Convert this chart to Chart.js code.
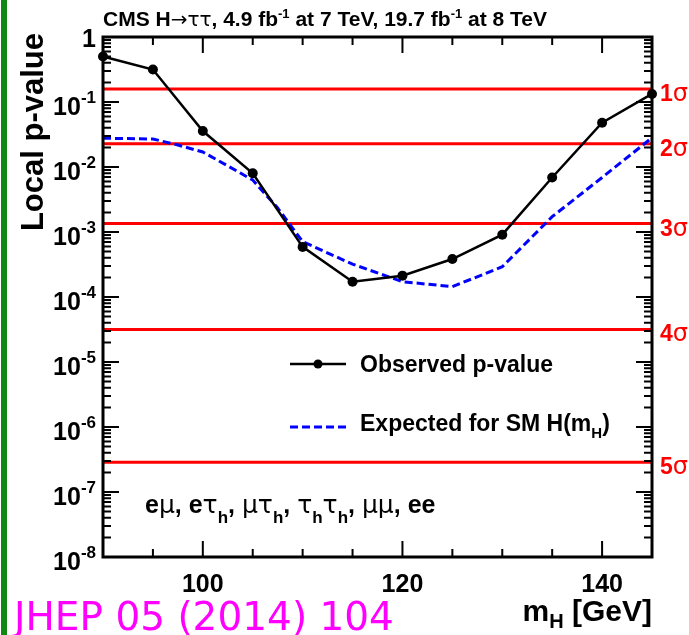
<!DOCTYPE html>
<html>
<head>
<meta charset="utf-8">
<script src="https://cdn.jsdelivr.net/npm/chart.js@4.4.1/dist/chart.umd.min.js"></script>
<style>
  body { margin: 0; background: #fff; }
  canvas { display: block; }
</style>
</head>
<body>
<canvas id="pvalueChart" width="689" height="635"></canvas>
<script>
// observed local p-value (every 5 GeV)
const massPoints = [90, 95, 100, 105, 110, 115, 120, 125, 130, 135, 140, 145];
const observedP = [0.50, 0.316, 0.0358, 0.0080, 5.9e-4, 1.72e-4, 2.13e-4, 3.84e-4, 9.1e-4, 6.9e-3, 0.048, 0.133];

// expected for SM Higgs
const expectedMass = [90, 95, 97.5, 100, 102.5, 105, 107.5, 110, 115, 120, 125, 130, 135, 140, 145];
const expectedP = [0.0277, 0.0270, 0.0218, 0.0170, 0.0104, 0.0063, 0.00234, 7.1e-4, 3.2e-4, 1.72e-4, 1.44e-4, 2.92e-4, 1.72e-3, 6.9e-3, 0.0282];

// significance lines
const sigmaLabels = ["1", "2", "3", "4", "5"];
const sigmaP = [0.1587, 0.02275, 0.00135, 3.167e-5, 2.867e-7];

// axis ticks
const yDecades = [0, -1, -2, -3, -4, -5, -6, -7, -8];
const xTickLabels = [100, 120, 140];
const xMinorTicks = [95, 100, 105, 110, 115, 120, 125, 130, 135, 140];

const BOLD = (s) => "bold " + s + "px 'Liberation Sans', Arial, sans-serif";
const GREEK = (s) => s + "px 'DejaVu Sans', sans-serif";

function richText(ctx, parts, x, y, align) {
  let w = 0;
  parts.forEach(p => { ctx.font = p[1]; w += ctx.measureText(p[0]).width; });
  let cx = align === "right" ? x - w : align === "center" ? x - w / 2 : x;
  parts.forEach(p => {
    ctx.font = p[1];
    ctx.fillText(p[0], cx, y + (p[2] || 0));
    cx += ctx.measureText(p[0]).width;
  });
}

const sigmaDatasets = sigmaP.map((p, i) => ({
  label: sigmaLabels[i] + "σ",
  data: [{ x: 90, y: p }, { x: 145, y: p }],
  borderColor: "#ff0000",
  borderWidth: 3,
  pointRadius: 0,
  fill: false,
}));

const cmsDecor = {
  id: "cmsDecor",
  beforeDraw(chart) {
    const ctx = chart.ctx;
    ctx.save();
    ctx.fillStyle = "#fff";
    ctx.fillRect(0, 0, chart.width, chart.height);
    ctx.fillStyle = "#118811";
    ctx.fillRect(1, 0, 6, chart.height);
    ctx.restore();
  },
  afterDatasetsDraw(chart) {
    const ctx = chart.ctx;
    const a = chart.chartArea;
    const xs = chart.scales.x;
    const ys = chart.scales.y;
    ctx.save();
    ctx.strokeStyle = "#000";
    ctx.fillStyle = "#000";

    // frame
    ctx.lineWidth = 3;
    ctx.strokeRect(a.left, a.top, a.right - a.left, a.bottom - a.top);

    // y ticks (inside, both sides)
    ctx.lineWidth = 2;
    ctx.beginPath();
    yDecades.forEach(d => {
      const yp = ys.getPixelForValue(Math.pow(10, d));
      ctx.moveTo(a.left, yp); ctx.lineTo(a.left + 16, yp);
      ctx.moveTo(a.right, yp); ctx.lineTo(a.right - 16, yp);
      if (d > -8) {
        for (let k = 2; k <= 9; k++) {
          const ym = ys.getPixelForValue(k * Math.pow(10, d - 1));
          ctx.moveTo(a.left, ym); ctx.lineTo(a.left + 8, ym);
          ctx.moveTo(a.right, ym); ctx.lineTo(a.right - 8, ym);
        }
      }
    });
    // x ticks (inside, top and bottom)
    xMinorTicks.forEach(m => {
      const xp = xs.getPixelForValue(m);
      const len = xTickLabels.includes(m) ? 16 : 8;
      ctx.moveTo(xp, a.bottom); ctx.lineTo(xp, a.bottom - len);
      ctx.moveTo(xp, a.top); ctx.lineTo(xp, a.top + len);
    });
    ctx.stroke();

    // y tick labels
    ctx.textBaseline = "alphabetic";
    yDecades.forEach(d => {
      const yp = ys.getPixelForValue(Math.pow(10, d));
      if (d === 0) {
        richText(ctx, [["1", BOLD(25)]], 96, yp + 10, "right");
      } else {
        richText(ctx, [["10", BOLD(25)], [String(d), BOLD(17), -12]], 96, yp + 13, "right");
      }
    });
    // x tick labels
    xTickLabels.forEach(m => {
      richText(ctx, [[String(m), BOLD(25)]], xs.getPixelForValue(m), 592, "center");
    });

    // axis titles
    richText(ctx, [["m", BOLD(30)], ["H", BOLD(20), 7], [" [GeV]", BOLD(30)]], a.right, 621, "right");
    ctx.save();
    ctx.translate(43, a.top - 4);
    ctx.rotate(-Math.PI / 2);
    richText(ctx, [["Local p-value", BOLD(31)]], 0, 0, "right");
    ctx.restore();

    // title
    richText(ctx, [
      ["CMS H", BOLD(21)], ["→ττ", GREEK(20)], [", 4.9 fb", BOLD(21)], ["-1", BOLD(13), -8],
      [" at 7 TeV, 19.7 fb", BOLD(21)], ["-1", BOLD(13), -8], [" at 8 TeV", BOLD(21)]
    ], a.left, 26, "left");

    // sigma labels
    ctx.fillStyle = "#ff0000";
    sigmaP.forEach((p, i) => {
      const yp = ys.getPixelForValue(p);
      richText(ctx, [[sigmaLabels[i], BOLD(23)], ["σ", GREEK(24)]], 660, yp + 12, "left");
    });

    // legend
    const obs = chart.data.datasets[0];
    const exp = chart.data.datasets[1];
    ctx.strokeStyle = obs.borderColor;
    ctx.lineWidth = obs.borderWidth;
    ctx.beginPath(); ctx.moveTo(290, 364); ctx.lineTo(346, 364); ctx.stroke();
    ctx.fillStyle = obs.pointBackgroundColor;
    ctx.beginPath(); ctx.arc(318, 364, 4.5, 0, Math.PI * 2); ctx.fill();
    ctx.strokeStyle = exp.borderColor;
    ctx.lineWidth = exp.borderWidth;
    ctx.setLineDash(exp.borderDash);
    ctx.beginPath(); ctx.moveTo(290, 427); ctx.lineTo(346, 427); ctx.stroke();
    ctx.setLineDash([]);
    ctx.fillStyle = "#000";
    richText(ctx, [["Observed p-value", BOLD(23)]], 360, 372, "left");
    richText(ctx, [["Expected for SM H(m", BOLD(23)], ["H", BOLD(15), 7], [")", BOLD(23)]], 360, 431, "left");

    // channels
    const G = GREEK(25), B = BOLD(25), S = BOLD(17);
    richText(ctx, [
      ["e", B], ["μ", G], [", e", B], ["τ", G], ["h", S, 10], [", ", B], ["μτ", G], ["h", S, 10],
      [", ", B], ["τ", G], ["h", S, 10], ["τ", G], ["h", S, 10], [", ", B], ["μμ", G], [", ee", B]
    ], 145, 513, "left");

    // journal reference
    ctx.fillStyle = "#ff00ff";
    ctx.font = "39px 'DejaVu Sans', sans-serif";
    ctx.fillText("JHEP 05 (2014) 104", 14, 630);
    ctx.restore();
  }
};

new Chart(document.getElementById("pvalueChart").getContext("2d"), {
  type: "line",
  data: {
    datasets: [
      {
        label: "Observed p-value",
        data: massPoints.map((m, i) => ({ x: m, y: observedP[i] })),
        borderColor: "#000",
        borderWidth: 2.5,
        pointRadius: 5,
        pointBackgroundColor: "#000",
        pointBorderWidth: 0,
        clip: false,
        tension: 0,
      },
      {
        label: "Expected for SM H(mH)",
        data: expectedMass.map((m, i) => ({ x: m, y: expectedP[i] })),
        borderColor: "#0000ff",
        borderWidth: 3,
        borderDash: [8, 4],
        pointRadius: 0,
        tension: 0,
      },
      ...sigmaDatasets,
    ],
  },
  options: {
    responsive: false,
    animation: false,
    devicePixelRatio: 1,
    layout: { padding: { left: 103, right: 37, top: 37, bottom: 78 } },
    scales: {
      x: { type: "linear", min: 90, max: 145, display: false },
      y: { type: "logarithmic", min: 1e-8, max: 1, display: false },
    },
    plugins: {
      legend: { display: false },
      tooltip: { enabled: false },
    },
  },
  plugins: [cmsDecor],
});
</script>
</body>
</html>
